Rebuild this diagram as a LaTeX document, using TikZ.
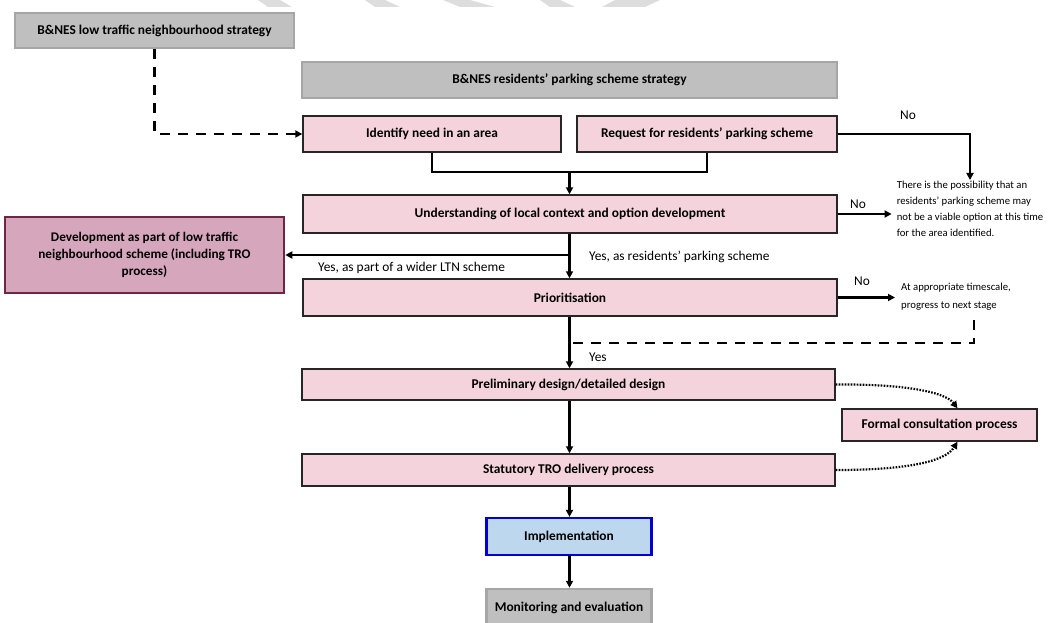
\documentclass[tikz,border=0pt]{standalone}
\usepackage{fontspec}
\setmainfont{Carlito}
\usetikzlibrary{arrows.meta}
\definecolor{pinkfill}{RGB}{244,211,220}
\definecolor{greyfill}{RGB}{191,191,191}
\definecolor{greyline}{RGB}{166,166,166}
\definecolor{devfill}{RGB}{214,166,189}
\definecolor{devline}{RGB}{110,38,70}
\definecolor{impfill}{RGB}{189,215,238}
\definecolor{impline}{RGB}{0,0,210}
\definecolor{wmark}{RGB}{221,221,221}
\begin{document}
\begin{tikzpicture}[x=1pt,y=-1pt,
  box/.style={draw, line width=1.4pt, inner sep=0pt, align=center, font=\bfseries\fontsize{13.4pt}{16pt}\selectfont},
  pinkbox/.style={box, fill=pinkfill, draw=black!85},
  greybox/.style={box, fill=greyfill, draw=greyline, line width=2.5pt},
  devbox/.style={box, fill=devfill, draw=devline, line width=2.5pt, font=\bfseries\fontsize{13.2pt}{17pt}\selectfont},
  impbox/.style={box, fill=impfill, draw=impline, line width=2.2pt},
  conn/.style={line width=2.2pt, draw=black},
  arr/.style={conn, -{Triangle[length=7pt,width=7pt]}},
  dashconn/.style={line width=2.4pt, dash pattern=on 10pt off 8pt},
  dotarr/.style={line width=2.2pt, dash pattern=on 1.6pt off 1.4pt, -{Triangle[length=7pt,width=7pt]}},
  lbl/.style={inner sep=0pt, font=\fontsize{13.4pt}{16pt}\selectfont},
  note/.style={inner sep=1pt, align=left, font=\fontsize{10.7pt}{16pt}\selectfont}
]
\useasboundingbox (0,0) rectangle (1061,623);
% watermark fragments
\fill[wmark] (258,0) -- (280,0) -- (292,7) -- (268,7) -- cycle;
\fill[wmark] (365,0) -- (385,0) -- (400,7) -- (375,7) -- cycle;
\fill[wmark] (443,0) -- (470,0) -- (495,7) -- (460,7) -- cycle;
\fill[wmark] (540,0) -- (560,0) -- (575,7) -- (550,7) -- cycle;
\fill[wmark] (615,0) -- (660,0) -- (645,7) -- (602,7) -- cycle;

% boxes
\node[greybox, minimum width=279pt, minimum height=35pt] (ltn) at (154.5,30.5) {B\&NES low traffic neighbourhood strategy};
\node[greybox, minimum width=535pt, minimum height=36pt] (rps) at (569.5,80) {B\&NES residents’ parking scheme strategy};
\node[pinkbox, minimum width=258pt, minimum height=36pt] (idn) at (432,134) {Identify need in an area};
\node[pinkbox, minimum width=260pt, minimum height=36pt] (req) at (707,134) {Request for residents’ parking scheme};
\node[pinkbox, minimum width=534pt, minimum height=38pt] (und) at (570,214) {Understanding of local context and option development};
\node[devbox, minimum width=279pt, minimum height=76pt] (dev) at (144.5,255) {Development as part of low traffic\\neighbourhood scheme (including TRO\\process)};
\node[pinkbox, minimum width=534pt, minimum height=37pt] (pri) at (570,297.5) {Prioritisation};
\node[pinkbox, minimum width=533pt, minimum height=31pt] (pre) at (568.5,384.5) {Preliminary design/detailed design};
\node[pinkbox, minimum width=195pt, minimum height=32pt] (fcp) at (939.5,425) {Formal consultation process};
\node[pinkbox, minimum width=533pt, minimum height=32pt] (tro) at (568.5,470) {Statutory TRO delivery process};
\node[impbox, minimum width=165pt, minimum height=37pt] (imp) at (569,536.5) {Implementation};
\node[greybox, minimum width=165pt, minimum height=38pt] (mon) at (569,608) {Monitoring and evaluation};

% side notes
\node[note, anchor=north] (possib) at (970,180) {There is the possibility that an\\residents’ parking scheme may\\not be a viable option at this time\\for the area identified.};
\node[note, anchor=west, font=\fontsize{10.7pt}{18pt}\selectfont] (atapp) at (900,297) {At appropriate timescale,\\progress to next stage};

% labels
\node[lbl] (no1) at (908,115) {No};
\node[lbl] (no2) at (858,204) {No};
\node[lbl] (no3) at (862,281) {No};
\node[lbl, anchor=west] (yes1) at (589,257) {Yes, as residents’ parking scheme};
\node[lbl, anchor=west] (yes2) at (318,268) {Yes, as part of a wider LTN scheme};
\node[lbl, anchor=west] (yes3) at (589,357) {Yes};

% connectors
\draw[dashconn, -{Triangle[length=7pt,width=7pt]}] (ltn.south) |- (idn.west);
\coordinate (j1) at (569.5,172);
\draw[conn] (idn.south) |- (j1) -| (req.south);
\draw[arr] (j1) -- (und.north -| j1);
\draw[arr] (req.east) -| (possib.north);
\draw[arr, shorten >=4pt] (und.east) -- (und.east -| possib.west);
\coordinate (j2) at (569.5,255);
\draw[arr] (und.south -| j2) -- (pri.north -| j2);
\draw[arr] (j2) -- (dev.east);
\draw[arr, shorten >=5pt] (pri.east) -- (pri.east -| atapp.west);
\coordinate (d1) at (974,320);
\coordinate (d2) at (571,343);
\draw[dashconn] (d1) |- (d2);
\draw[arr] (pri.south -| j2) -- (pre.north -| j2);
\draw[arr] (pre.south -| j2) -- (tro.north -| j2);
\draw[arr] (tro.south -| j2) -- (imp.north -| j2);
\draw[arr] (imp.south -| j2) -- (mon.north -| j2);
\draw[dotarr] (pre.east) .. controls (905,384) and (945,392) .. ([xshift=18pt]fcp.north);
\draw[dotarr] (tro.east) .. controls (905,470) and (945,462) .. ([xshift=18pt]fcp.south);
\end{tikzpicture}
\end{document}
